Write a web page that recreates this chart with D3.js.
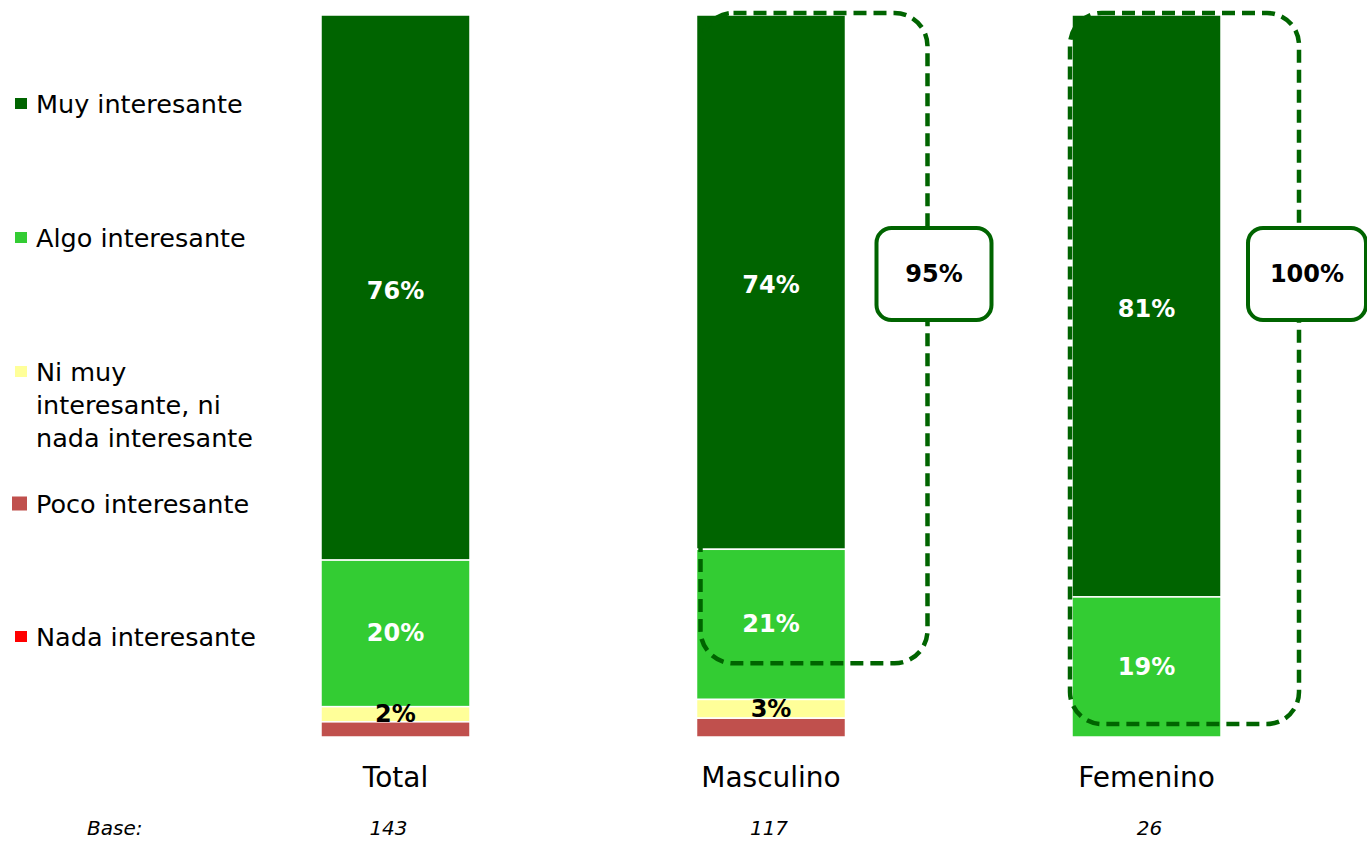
<!DOCTYPE html>
<html>
<head>
<meta charset="utf-8">
<script src="https://cdn.jsdelivr.net/npm/d3@7"></script>
<style>
  html, body { margin: 0; padding: 0; background: #fff; }
  svg { display: block; }
  text { font-family: "DejaVu Sans", Verdana, sans-serif; }
</style>
</head>
<body>
<svg id="chart" width="1367" height="841"></svg>
<script>
// ---- data ----
const categories = ["Total", "Masculino", "Femenino"];
const bases = ["143", "117", "26"];
const seriesNames = ["Muy interesante", "Algo interesante", "Ni muy interesante, ni nada interesante", "Poco interesante", "Nada interesante"];
const muyInteresante   = [75.5, 74.0, 80.6];
const algoInteresante  = [20.3, 20.8, 19.4];
const niMuyNiNada      = [2.1, 2.6, 0];
const pocoInteresante  = [2.1, 2.6, 0];
const nadaInteresante  = [0, 0, 0];
const highlighted = ["Masculino", "Femenino"];   // groups with Top-2 box

// ---- styles ----
const colors = ["#006400", "#33CC33", "#FFFF99", "#C0504D", "#FF0000"];
const labelColors = ["#ffffff", "#ffffff", "#000000", "#000000", "#000000"];
const labelledSeries = [0, 1, 2];
const boxColor = "#006400";

const svg = d3.select("#chart");
const values = [muyInteresante, algoInteresante, niMuyNiNada, pocoInteresante, nadaInteresante];

const x = d3.scaleBand().domain(categories).range([321, 1221]).paddingInner(0.6032).paddingOuter(0);
const y = d3.scaleLinear().domain([0, 100]).range([737, 15]);

// build stacked table (first series on top)
const table = categories.map((c, i) => {
  const row = { cat: c };
  seriesNames.forEach((s, k) => row[s] = values[k][i]);
  return row;
});
const stack = d3.stack().keys(seriesNames).order(d3.stackOrderReverse)(table);

// bars
const gBars = svg.append("g");
stack.forEach((layer, k) => {
  gBars.selectAll(null).data(layer.filter(d => d[1] - d[0] > 0)).enter().append("rect")
    .attr("x", d => x(d.data.cat))
    .attr("width", x.bandwidth())
    .attr("y", d => y(d[1]))
    .attr("height", d => y(d[0]) - y(d[1]))
    .attr("fill", colors[k])
    .attr("stroke", "#fff")
    .attr("stroke-width", 1.5);
});

// segment labels
stack.forEach((layer, k) => {
  if (!labelledSeries.includes(k)) return;
  svg.append("g").selectAll("text").data(layer.filter(d => d[1] - d[0] > 0)).enter().append("text")
    .attr("x", d => x(d.data.cat) + x.bandwidth() / 2)
    .attr("y", d => (y(d[0]) + y(d[1])) / 2 + (k === 0 ? 3 : 0))
    .attr("text-anchor", "middle")
    .attr("dominant-baseline", "central")
    .attr("font-size", 24)
    .attr("font-weight", "bold")
    .attr("fill", labelColors[k])
    .text(d => d3.format(".0f")(d[1] - d[0]) + "%");
});

// dashed Top-2 boxes
const boxSpecs = {
  "Masculino": { left: 4, right: 82, bottom: 10.2, r: 33 },
  "Femenino":  { left: -2, right: 78, bottom: 1.8, r: 32 }
};
highlighted.forEach(c => {
  const b = boxSpecs[c];
  const i = categories.indexOf(c);
  const x0 = x(c) + b.left, x1 = x(c) + x.bandwidth() + b.right;
  const y0 = y(100) - 2, y1 = y(b.bottom);
  svg.append("rect")
    .attr("x", x0).attr("y", y0)
    .attr("width", x1 - x0).attr("height", y1 - y0)
    .attr("rx", b.r).attr("ry", b.r)
    .attr("fill", "none")
    .attr("stroke", boxColor)
    .attr("stroke-width", 4.5)
    .attr("stroke-dasharray", "13,7");
  const top2 = muyInteresante[i] + algoInteresante[i];
  const lw = c === "Femenino" ? 118 : 115;
  const lx = x1 - 51;
  svg.append("rect")
    .attr("x", lx).attr("y", 228)
    .attr("width", lw).attr("height", 92)
    .attr("rx", 15).attr("ry", 15)
    .attr("fill", "#fff")
    .attr("stroke", boxColor)
    .attr("stroke-width", 4);
  svg.append("text")
    .attr("x", lx + lw / 2)
    .attr("y", 274)
    .attr("text-anchor", "middle")
    .attr("dominant-baseline", "central")
    .attr("font-size", 24)
    .attr("font-weight", "bold")
    .attr("fill", "#000")
    .text(d3.format(".0f")(top2) + "%");
});

// category labels
svg.append("g").selectAll("text").data(categories).enter().append("text")
  .attr("x", d => x(d) + x.bandwidth() / 2)
  .attr("y", 787)
  .attr("text-anchor", "middle")
  .attr("font-size", 28)
  .attr("fill", "#000")
  .text(d => d);

// base row
svg.append("text").attr("x", 87).attr("y", 835)
  .attr("font-size", 20).attr("font-style", "italic").text("Base:");
svg.append("g").selectAll("text").data(bases).enter().append("text")
  .attr("x", (d, i) => x(categories[i]) + x.bandwidth() / 2 - 7 + i * 5)
  .attr("y", 835)
  .attr("text-anchor", "middle")
  .attr("font-size", 20)
  .attr("font-style", "italic")
  .text(d => d);

// legend
const legendLines = [["Muy interesante"], ["Algo interesante"], ["Ni muy", "interesante, ni", "nada interesante"], ["Poco interesante"], ["Nada interesante"]];
const legendY = [113, 247, 381, 513, 646];
const legendSq = [12, 12, 12, 15, 12];
const lg = svg.append("g");
legendLines.forEach((lines, k) => {
  const s = legendSq[k];
  lg.append("rect")
    .attr("x", 27 - s).attr("y", legendY[k] - 9 - s / 2)
    .attr("width", s).attr("height", s - 1)
    .attr("fill", colors[k]);
  const t = lg.append("text").attr("x", 36).attr("y", legendY[k]).attr("font-size", 25.5).attr("fill", "#000");
  lines.forEach((ln, j) => t.append("tspan").attr("x", 36).attr("dy", j === 0 ? 0 : 33).text(ln));
});
</script>
</body>
</html>
